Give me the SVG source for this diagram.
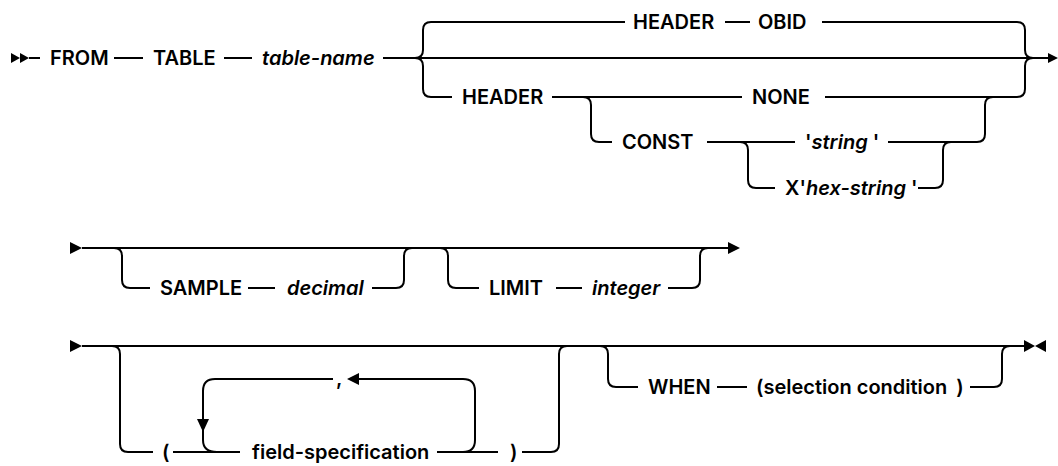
<svg xmlns="http://www.w3.org/2000/svg" width="1058" height="466" viewBox="0 0 1058 466">
<style>
.t{font-family:"Inter","Liberation Sans",sans-serif;font-size:20px;font-weight:600;fill:#000}
.i{font-style:italic}
.ln{fill:none;stroke:#000;stroke-width:2}
.ah{fill:#000;stroke:none}
</style>
<rect width="1058" height="466" fill="#fff"/>
<g id="connectors">
<!-- line 1 -->
<polygon class="ah" points="11,53 20,58 11,63"/>
<polygon class="ah" points="20,53 29,58 20,63"/>
<path class="ln" d="M29 58H40M114 58H143M224 58H252M383 58H1050"/>
<polygon class="ah" points="1048,53 1058,58 1048,63"/>
<path class="ln" d="M415 58Q423 58 423 50V30Q423 22 431 22H625M750 22H725M822 22H1017Q1025 22 1025 30V50Q1025 58 1033 58"/>
<path class="ln" d="M415 58Q423 58 423 66V89Q423 97 431 97H452M552 97H742M825 97H1017Q1025 97 1025 89V66Q1025 58 1033 58"/>
<path class="ln" d="M583 97Q591 97 591 105V134Q591 142 599 142H612M707 142H795M888 142H977Q985 142 985 134V105Q985 97 993 97"/>
<path class="ln" d="M740 142Q748 142 748 150V180Q748 188 756 188H775M918 188H935Q943 188 943 180V150Q943 142 951 142"/>
<!-- line 2 -->
<polygon class="ah" points="70,242 82,248 70,254"/>
<path class="ln" d="M82 248H730"/>
<polygon class="ah" points="728,242 740,248 728,254"/>
<path class="ln" d="M114 248Q122 248 122 256V280Q122 288 130 288H150M248 288H275M372 288H396Q404 288 404 280V256Q404 248 412 248"/>
<path class="ln" d="M440 248Q448 248 448 256V280Q448 288 456 288H479M556 288H582M668 288H692Q700 288 700 280V256Q700 248 708 248"/>
<!-- line 3 -->
<polygon class="ah" points="70,340 82,346 70,352"/>
<path class="ln" d="M82 346H1026"/>
<polygon class="ah" points="1024,340 1035,346 1024,352"/>
<polygon class="ah" points="1046,340 1035,346 1046,352"/>
<path class="ln" d="M112 346Q120 346 120 354V444Q120 452 128 452H153M173 452H240M437 452H498M522 452H551Q559 452 559 444V354Q559 346 567 346"/>
<path class="ln" d="M217 452Q203 452 203 440V391Q203 379 215 379H333M358 379H463Q475 379 475 391V440Q475 452 463 452"/>
<polygon class="ah" points="347,379 359,373 359,385"/>
<polygon class="ah" points="197,419 209,419 203,432"/>
<path class="ln" d="M600 346Q608 346 608 354V379Q608 387 616 387H638M717 387H747M970 387H994Q1002 387 1002 379V354Q1002 346 1010 346"/>
</g>
<g id="n-from"><text class="t" x="50" y="65">FROM</text></g>
<g id="n-table"><text class="t" x="153" y="65">TABLE</text></g>
<g id="n-tablename"><text class="t i" x="262" y="65">table-name</text></g>
<g id="n-header1"><text class="t" x="633" y="29">HEADER</text></g>
<g id="n-obid"><text class="t" x="758" y="29">OBID</text></g>
<g id="n-header2"><text class="t" x="462" y="104">HEADER</text></g>
<g id="n-none"><text class="t" x="752" y="104">NONE</text></g>
<g id="n-const"><text class="t" x="622" y="149">CONST</text></g>
<g id="n-string"><text class="t" x="805" y="149">'<tspan class="i">string</tspan> '</text></g>
<g id="n-hexstring"><text class="t" x="785" y="195">X'<tspan class="i">hex-string</tspan> '</text></g>
<g id="n-sample"><text class="t" x="160" y="295">SAMPLE</text></g>
<g id="n-decimal"><text class="t i" x="287" y="295">decimal</text></g>
<g id="n-limit"><text class="t" x="489" y="295">LIMIT</text></g>
<g id="n-integer"><text class="t i" x="592" y="295">integer</text></g>
<g id="n-lparen"><text class="t" x="162" y="459">(</text></g>
<g id="n-field"><text class="t" x="252" y="459">field-specification</text></g>
<g id="n-comma"><text class="t" x="336" y="385">,</text></g>
<g id="n-rparen"><text class="t" x="510" y="459">)</text></g>
<g id="n-when"><text class="t" x="648" y="394">WHEN</text></g>
<g id="n-cond"><text class="t" x="756" y="394">(selection condition <tspan dx="4">)</tspan></text></g>
</svg>
